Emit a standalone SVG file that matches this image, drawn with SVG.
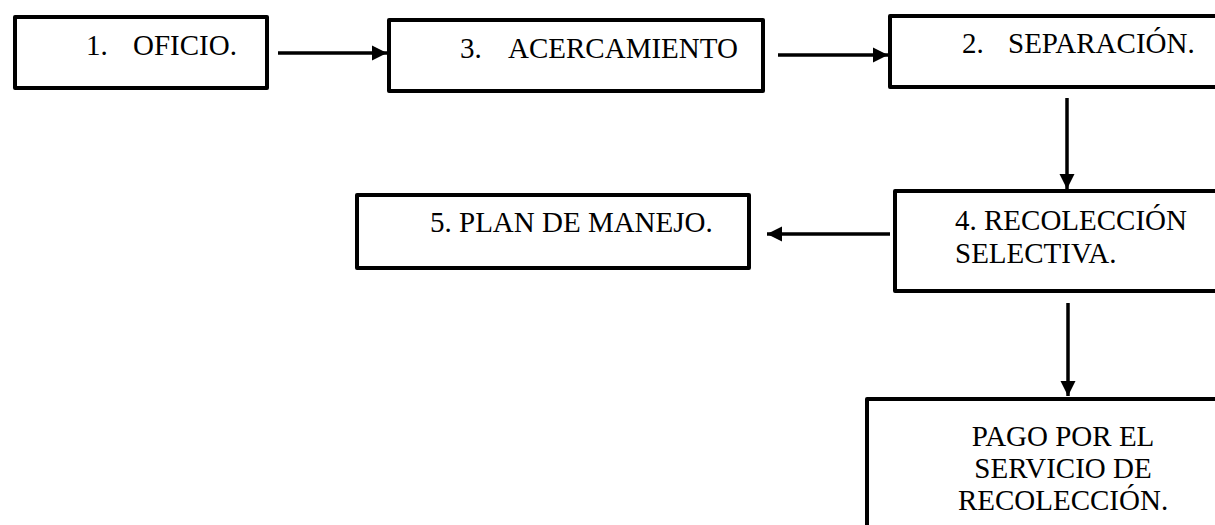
<svg xmlns="http://www.w3.org/2000/svg" width="1215" height="525" viewBox="0 0 1215 525">
<style>
.box{fill:#fff;stroke:#000;stroke-width:4;stroke-linejoin:round}
.t{font-family:'Liberation Serif','Times New Roman',serif;font-size:29px;fill:#000}
.c{stroke:#000;stroke-width:3.5;fill:none}
</style>
<defs>
<marker id="ah" viewBox="0 0 10 10" refX="10" refY="5" markerWidth="4.3" markerHeight="4.3" orient="auto" markerUnits="strokeWidth">
<path d="M0,0 L10,5 L0,10 z" fill="#000"/>
</marker>
</defs>
<rect width="1215" height="525" fill="#fff"/>
<g id="n1"><rect class="box" x="15" y="17" width="252" height="71"/><text class="t" x="86" y="55">1.</text><text class="t" x="133" y="55">OFICIO.</text></g>
<g id="n3"><rect class="box" x="389" y="20" width="374" height="71"/><text class="t" x="460" y="58">3.</text><text class="t" x="508" y="58">ACERCAMIENTO</text></g>
<g id="n2"><rect class="box" x="890" y="16" width="340" height="71"/><text class="t" x="962" y="53">2.</text><text class="t" x="1008" y="53">SEPARACIÓN.</text></g>
<g id="n4"><rect class="box" x="895" y="191" width="340" height="100"/><text class="t" x="955" y="230">4. RECOLECCIÓN</text><text class="t" x="955" y="263">SELECTIVA.</text></g>
<g id="n5"><rect class="box" x="357" y="195" width="392" height="73"/><text class="t" x="430" y="232">5. PLAN DE MANEJO.</text></g>
<g id="n6"><rect class="box" x="867" y="399" width="370" height="140"/><text class="t" text-anchor="middle" x="1063" y="446">PAGO POR EL</text><text class="t" text-anchor="middle" x="1063" y="478">SERVICIO DE</text><text class="t" text-anchor="middle" x="1063" y="510">RECOLECCIÓN.</text></g>
<g id="connectors">
<line class="c" x1="278" y1="53" x2="387" y2="53" marker-end="url(#ah)"/>
<line class="c" x1="778" y1="55" x2="888" y2="55" marker-end="url(#ah)"/>
<line class="c" x1="1067" y1="98" x2="1067" y2="189" marker-end="url(#ah)"/>
<line class="c" x1="890" y1="234" x2="767" y2="234" marker-end="url(#ah)"/>
<line class="c" x1="1068" y1="303" x2="1068" y2="396" marker-end="url(#ah)"/>
</g>
</svg>
